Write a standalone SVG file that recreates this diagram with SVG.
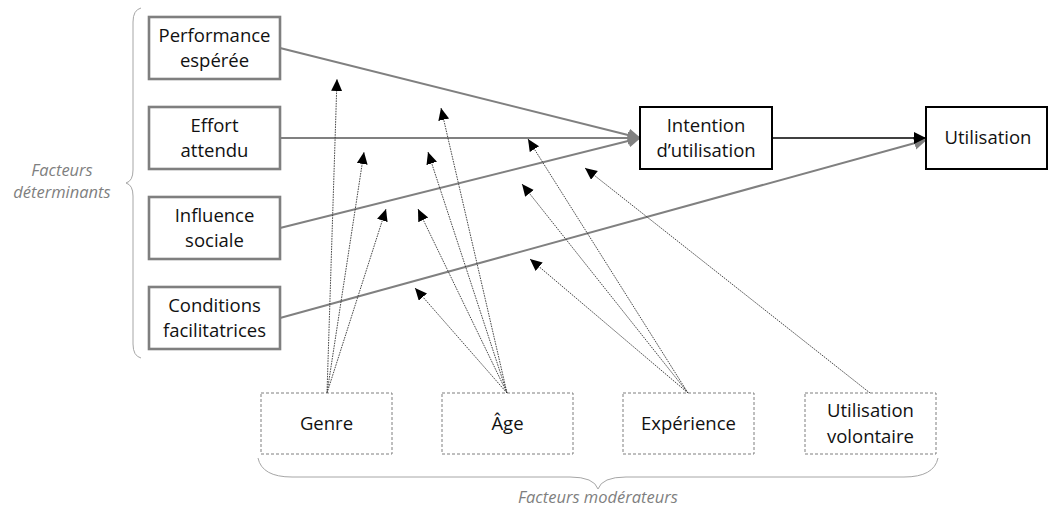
<svg xmlns="http://www.w3.org/2000/svg" width="1050" height="510" viewBox="0 0 1050 510">
<style>
text{font-family:"Open Sans","Liberation Sans",sans-serif;font-size:18.5px;fill:#111;text-anchor:middle}
.lbl{font-style:italic;font-size:16.5px;fill:#7f7f7f}
.det rect{fill:#fff;stroke:#7f7f7f;stroke-width:2.6}
.key rect{fill:#fff;stroke:#000;stroke-width:2}
.mod rect{fill:#fff;stroke:#7f7f7f;stroke-width:1;stroke-dasharray:3 2}
.main{stroke:#808080;stroke-width:2;fill:none}
.dot{stroke:#333;stroke-width:0.9;stroke-dasharray:1.6 1;fill:none;marker-end:url(#ab)}
.brace{fill:none;stroke:#a6a6a6;stroke-width:1}
</style>
<defs>
<marker id="ag" markerUnits="userSpaceOnUse" markerWidth="14" markerHeight="14" refX="12" refY="6.5" orient="auto"><path d="M0,0 L13,6.5 L0,13 Z" fill="#808080" stroke="none"/></marker>
<marker id="ak" markerUnits="userSpaceOnUse" markerWidth="14" markerHeight="14" refX="12" refY="6" orient="auto"><path d="M0,0 L12,6 L0,12 Z" fill="#000" stroke="none"/></marker>
<marker id="ab" markerUnits="userSpaceOnUse" markerWidth="14" markerHeight="12" refX="12" refY="5.5" orient="auto"><path d="M0,0 L12,5.5 L0,11 Z" fill="#000" stroke="none"/></marker>
</defs>
<path class="brace" d="M141,8 Q133,10 133,22 L133,170 Q133,181 126,183 Q133,185 133,196 L133,344 Q133,356 141,358"/>
<text class="lbl" x="62" y="176">Facteurs</text>
<text class="lbl" x="62" y="198">déterminants</text>
<path class="brace" d="M258,458 Q262,477 292,477 L570,477 Q594,477 598,489 Q602,477 626,477 L904,477 Q934,477 938,458"/>
<text class="lbl" x="598" y="503">Facteurs modérateurs</text>
<g id="connectors">
<line class="main" x1="280" y1="48" x2="640" y2="138" marker-end="url(#ag)"/>
<line class="main" x1="280" y1="138" x2="640" y2="138" marker-end="url(#ag)"/>
<line class="main" x1="280" y1="228" x2="640" y2="138" marker-end="url(#ag)"/>
<line class="main" x1="280" y1="318" x2="926" y2="140" marker-end="url(#ag)"/>
<line x1="772" y1="138" x2="926" y2="138" stroke="#000" stroke-width="1.6" marker-end="url(#ak)"/>
<line class="dot" x1="327" y1="393" x2="337" y2="79"/>
<line class="dot" x1="327" y1="393" x2="364" y2="152"/>
<line class="dot" x1="327" y1="393" x2="386" y2="209"/>
<line class="dot" x1="507" y1="393" x2="441" y2="108"/>
<line class="dot" x1="507" y1="393" x2="428" y2="152"/>
<line class="dot" x1="507" y1="393" x2="418" y2="209"/>
<line class="dot" x1="507" y1="393" x2="415" y2="288"/>
<line class="dot" x1="688" y1="393" x2="528" y2="139"/>
<line class="dot" x1="688" y1="393" x2="522" y2="184"/>
<line class="dot" x1="688" y1="393" x2="530" y2="259"/>
<line class="dot" x1="870" y1="393" x2="585" y2="168"/>
</g>
<g id="perf" class="det"><rect x="149" y="17" width="131" height="62"/><text x="214.5" y="42">Performance</text><text x="214.5" y="67">espérée</text></g>
<g id="effort" class="det"><rect x="149" y="107" width="131" height="62"/><text x="214.5" y="132">Effort</text><text x="214.5" y="157">attendu</text></g>
<g id="influence" class="det"><rect x="149" y="197" width="131" height="62"/><text x="214.5" y="222">Influence</text><text x="214.5" y="247">sociale</text></g>
<g id="conditions" class="det"><rect x="149" y="287" width="131" height="62"/><text x="214.5" y="312">Conditions</text><text x="214.5" y="337">facilitatrices</text></g>
<g id="intention" class="key"><rect x="640" y="107" width="132" height="62"/><text x="706" y="132">Intention</text><text x="706" y="157">d’utilisation</text></g>
<g id="utilisation" class="key"><rect x="926" y="107" width="121" height="62"/><text x="988" y="144">Utilisation</text></g>
<g id="genre" class="mod"><rect x="261" y="393" width="131" height="61"/><text x="326.5" y="430">Genre</text></g>
<g id="age" class="mod"><rect x="442" y="393" width="131" height="61"/><text x="507.5" y="430">Âge</text></g>
<g id="experience" class="mod"><rect x="623" y="393" width="131" height="61"/><text x="688.5" y="430">Expérience</text></g>
<g id="volontaire" class="mod"><rect x="805" y="393" width="131" height="61"/><text x="870.5" y="417">Utilisation</text><text x="870.5" y="443">volontaire</text></g>
</svg>
